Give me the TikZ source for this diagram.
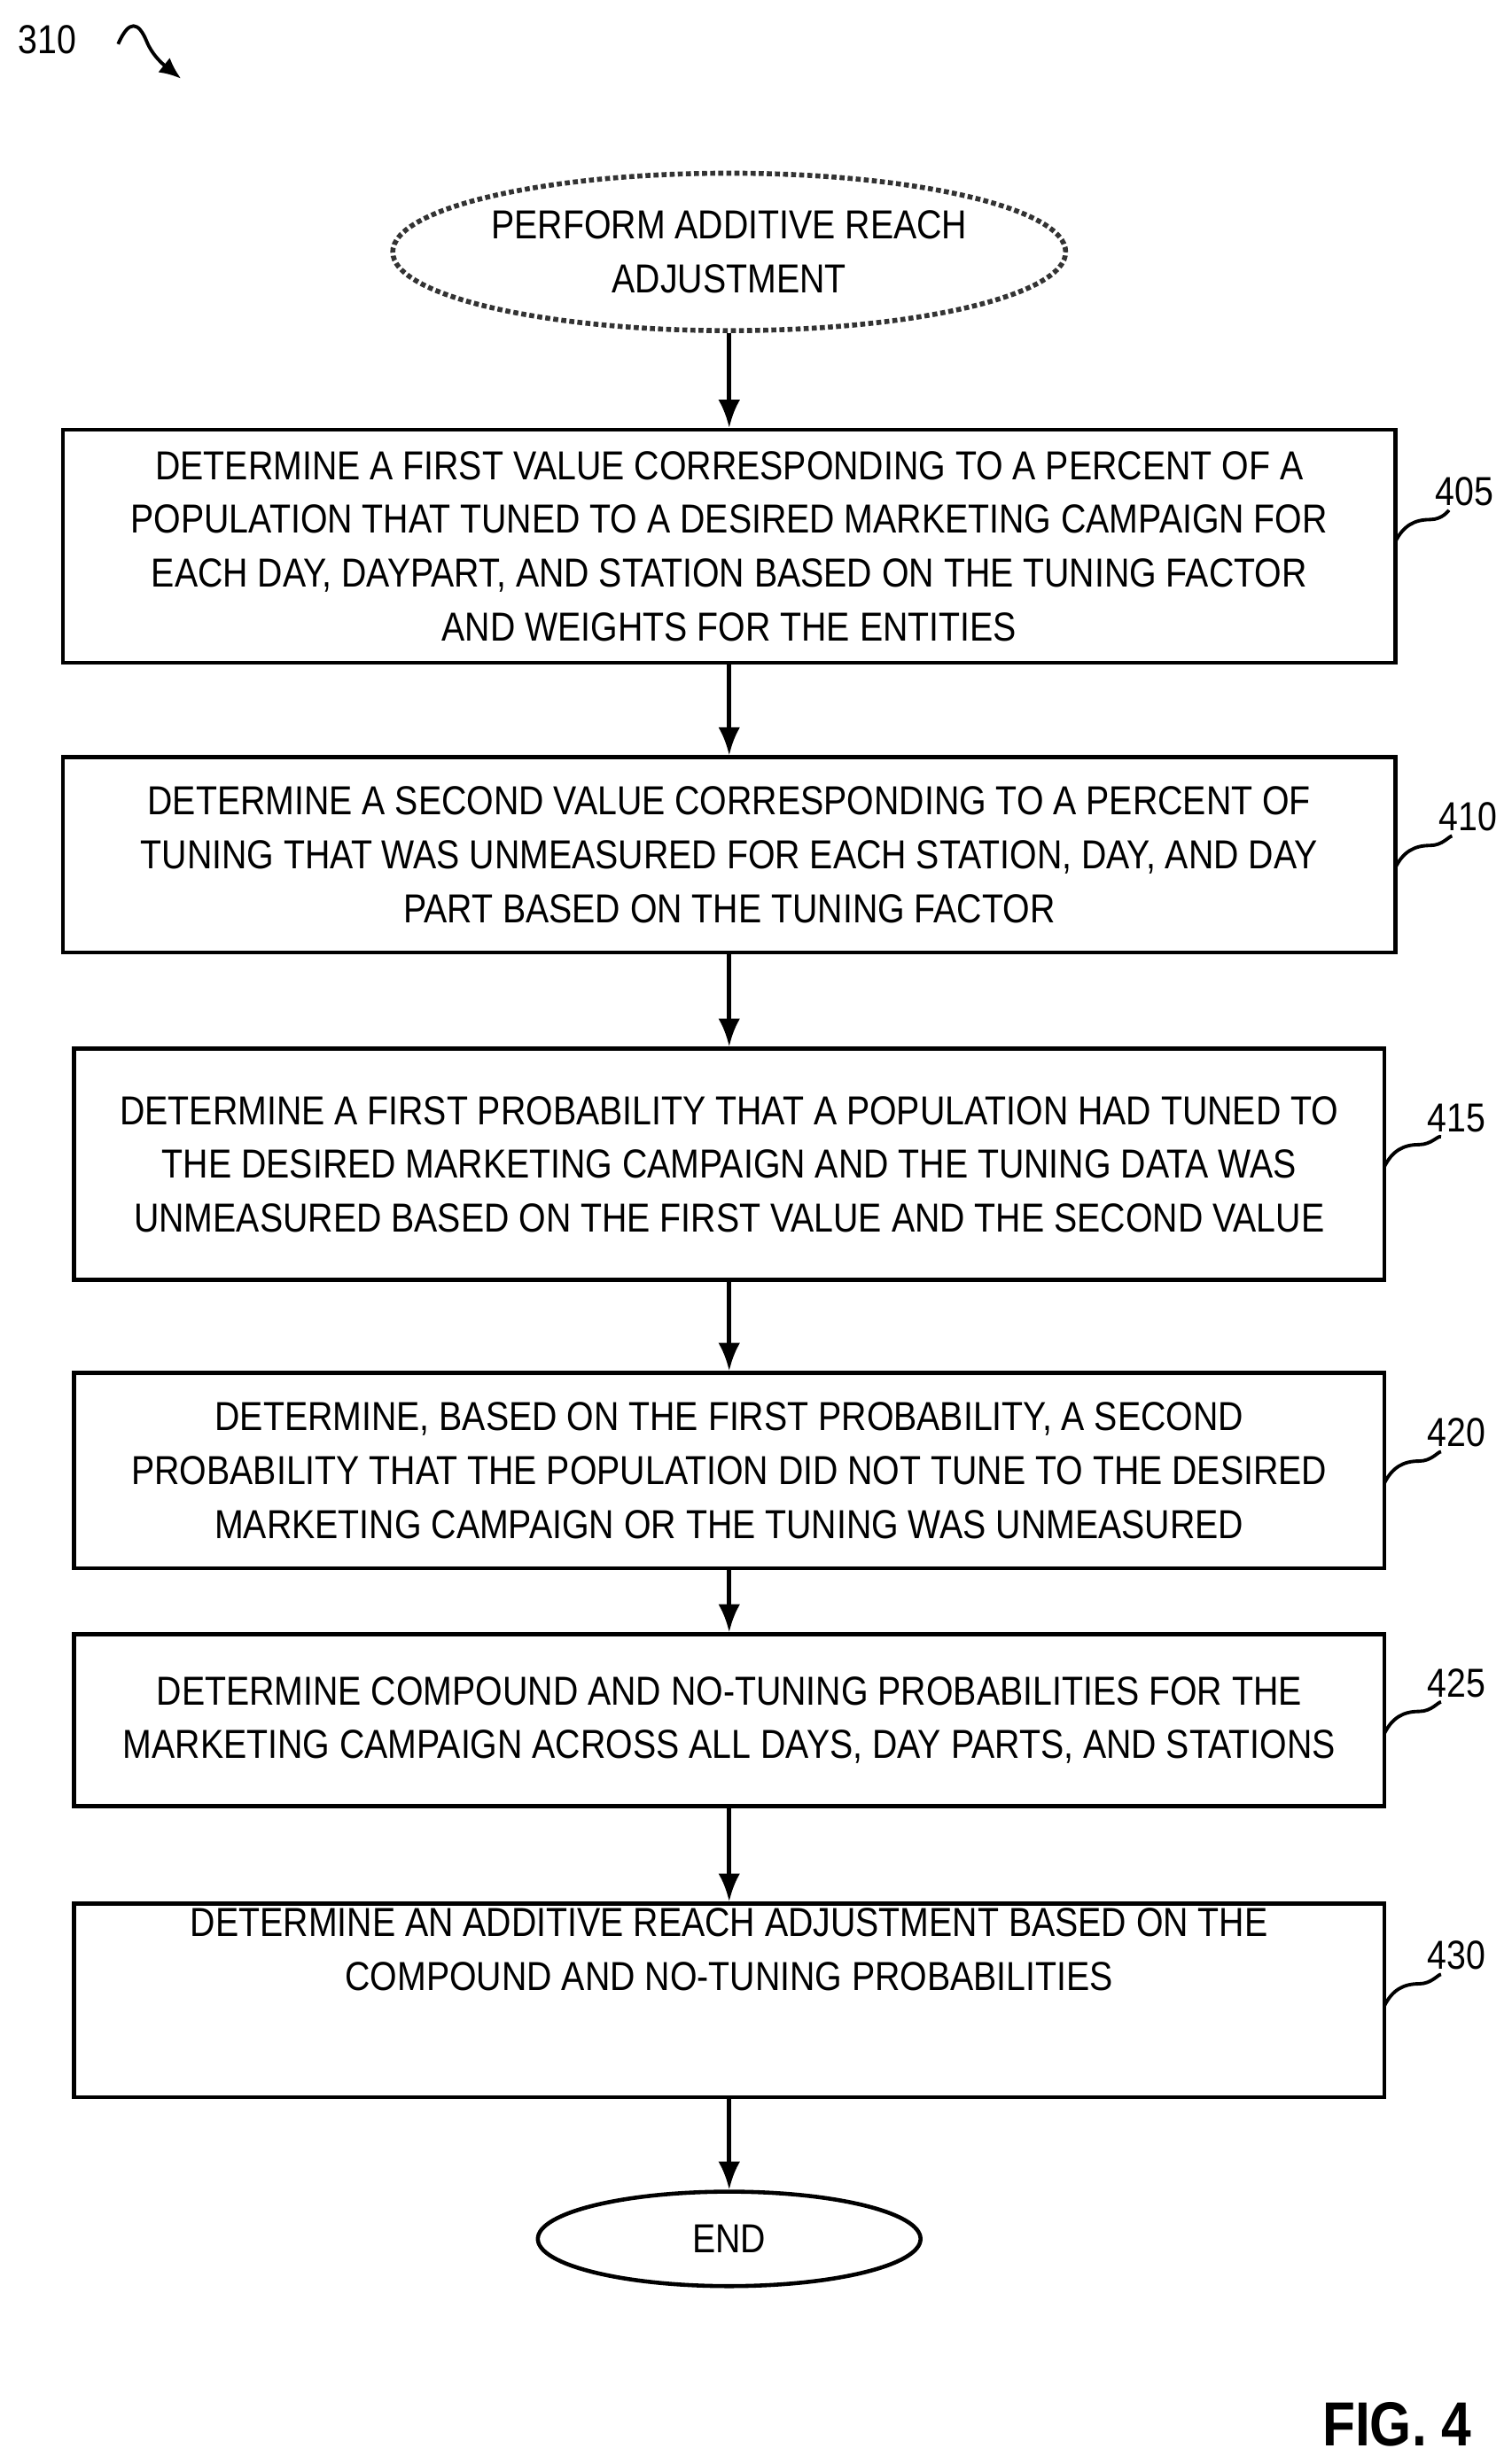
\documentclass[tikz,border=0pt]{standalone}
\usepackage{fontspec}
\setmainfont{Liberation Sans}[FakeStretch=0.86]
\usetikzlibrary{arrows.meta,shapes.geometric}
\begin{document}
\begin{tikzpicture}[x=0.01777cm,y=-0.01777cm,
  box/.style={draw,line width=1.3pt,align=center,inner sep=0pt,font=\fontsize{13}{17.3}\selectfont},
  lbl/.style={font=\fontsize{13}{15}\selectfont},
  arr/.style={line width=1.3pt,-{Latex[length=9pt,width=7pt]}},
  lead/.style={line width=1.1pt}]
\useasboundingbox (0,0) rectangle (960,1565);
\node[lbl] (n310) at (30,25) {310};
\coordinate (a310s) at (75,28);
\coordinate (a310e) at (115,50);
\draw[line width=1.1pt,-{Latex[length=7pt,width=6pt]}] (a310s) .. controls (82,12) and (88,14) .. (93,26) .. controls (97,36) and (105,42) .. (a310e);
\node[ellipse,draw,line width=1.6pt,densely dotted,color=black!80,text=black,minimum width=425*0.01777cm,minimum height=100*0.01777cm,inner sep=0pt,align=center,font=\fontsize{13}{17.3}\selectfont] (start) at (463,160) {PERFORM ADDITIVE REACH\\ADJUSTMENT};
\node[box,minimum width=846*0.01777cm,minimum height=148*0.01777cm] (b405) at (463,347) {DETERMINE A FIRST VALUE CORRESPONDING TO A PERCENT OF A\\POPULATION THAT TUNED TO A DESIRED MARKETING CAMPAIGN FOR\\EACH DAY, DAYPART, AND STATION BASED ON THE TUNING FACTOR\\AND WEIGHTS FOR THE ENTITIES};
\node[box,minimum width=846*0.01777cm,minimum height=124*0.01777cm] (b410) at (463,543) {DETERMINE A SECOND VALUE CORRESPONDING TO A PERCENT OF\\TUNING THAT WAS UNMEASURED FOR EACH STATION, DAY, AND DAY\\PART BASED ON THE TUNING FACTOR};
\node[box,minimum width=832*0.01777cm,minimum height=147*0.01777cm] (b415) at (463,739.5) {DETERMINE A FIRST PROBABILITY THAT A POPULATION HAD TUNED TO\\THE DESIRED MARKETING CAMPAIGN AND THE TUNING DATA WAS\\UNMEASURED BASED ON THE FIRST VALUE AND THE SECOND VALUE};
\node[box,minimum width=832*0.01777cm,minimum height=124*0.01777cm] (b420) at (463,934) {DETERMINE, BASED ON THE FIRST PROBABILITY, A SECOND\\PROBABILITY THAT THE POPULATION DID NOT TUNE TO THE DESIRED\\MARKETING CAMPAIGN OR THE TUNING WAS UNMEASURED};
\node[box,minimum width=832*0.01777cm,minimum height=109*0.01777cm] (b425) at (463,1092.5) {DETERMINE COMPOUND AND NO-TUNING PROBABILITIES FOR THE\\MARKETING CAMPAIGN ACROSS ALL DAYS, DAY PARTS, AND STATIONS};
\node[box,minimum width=832*0.01777cm,minimum height=123*0.01777cm] (b430) at (463,1270.5) {DETERMINE AN ADDITIVE REACH ADJUSTMENT BASED ON THE\\COMPOUND AND NO-TUNING PROBABILITIES\\[1.2em]};
\node[ellipse,draw,line width=1.3pt,minimum width=243*0.01777cm,minimum height=60*0.01777cm,inner sep=0pt,font=\fontsize{13}{15}\selectfont] (end) at (463,1422) {END};
\draw[arr] (start) -- (b405);
\draw[arr] (b405) -- (b410);
\draw[arr] (b410) -- (b415);
\draw[arr] (b415) -- (b420);
\draw[arr] (b420) -- (b425);
\draw[arr] (b425) -- (b430);
\draw[arr] (b430) -- (end);
\foreach \n/\lx/\ly/\bx/\by in {405/930/312/886/344, 410/932/519/886/551, 415/925/710/879/741, 420/925/910/879/942, 425/925/1069/879/1101, 430/925/1242/879/1274}{
  \node[lbl] (l\n) at (\lx,\ly) {\n};
  \coordinate (c\n) at (\bx,\by);
  \draw[lead] (c\n) .. controls (\bx+5,\by-10) and (\bx+12,\by-14) .. (\bx+22,\by-14) .. controls (\bx+30,\by-14) and (\bx+34,\by-20) .. (\lx-10,\ly+12);
}
\node[font=\bfseries\fontsize{20}{22}\selectfont] (fig) at (887,1540) {FIG. 4};
\end{tikzpicture}
\end{document}
